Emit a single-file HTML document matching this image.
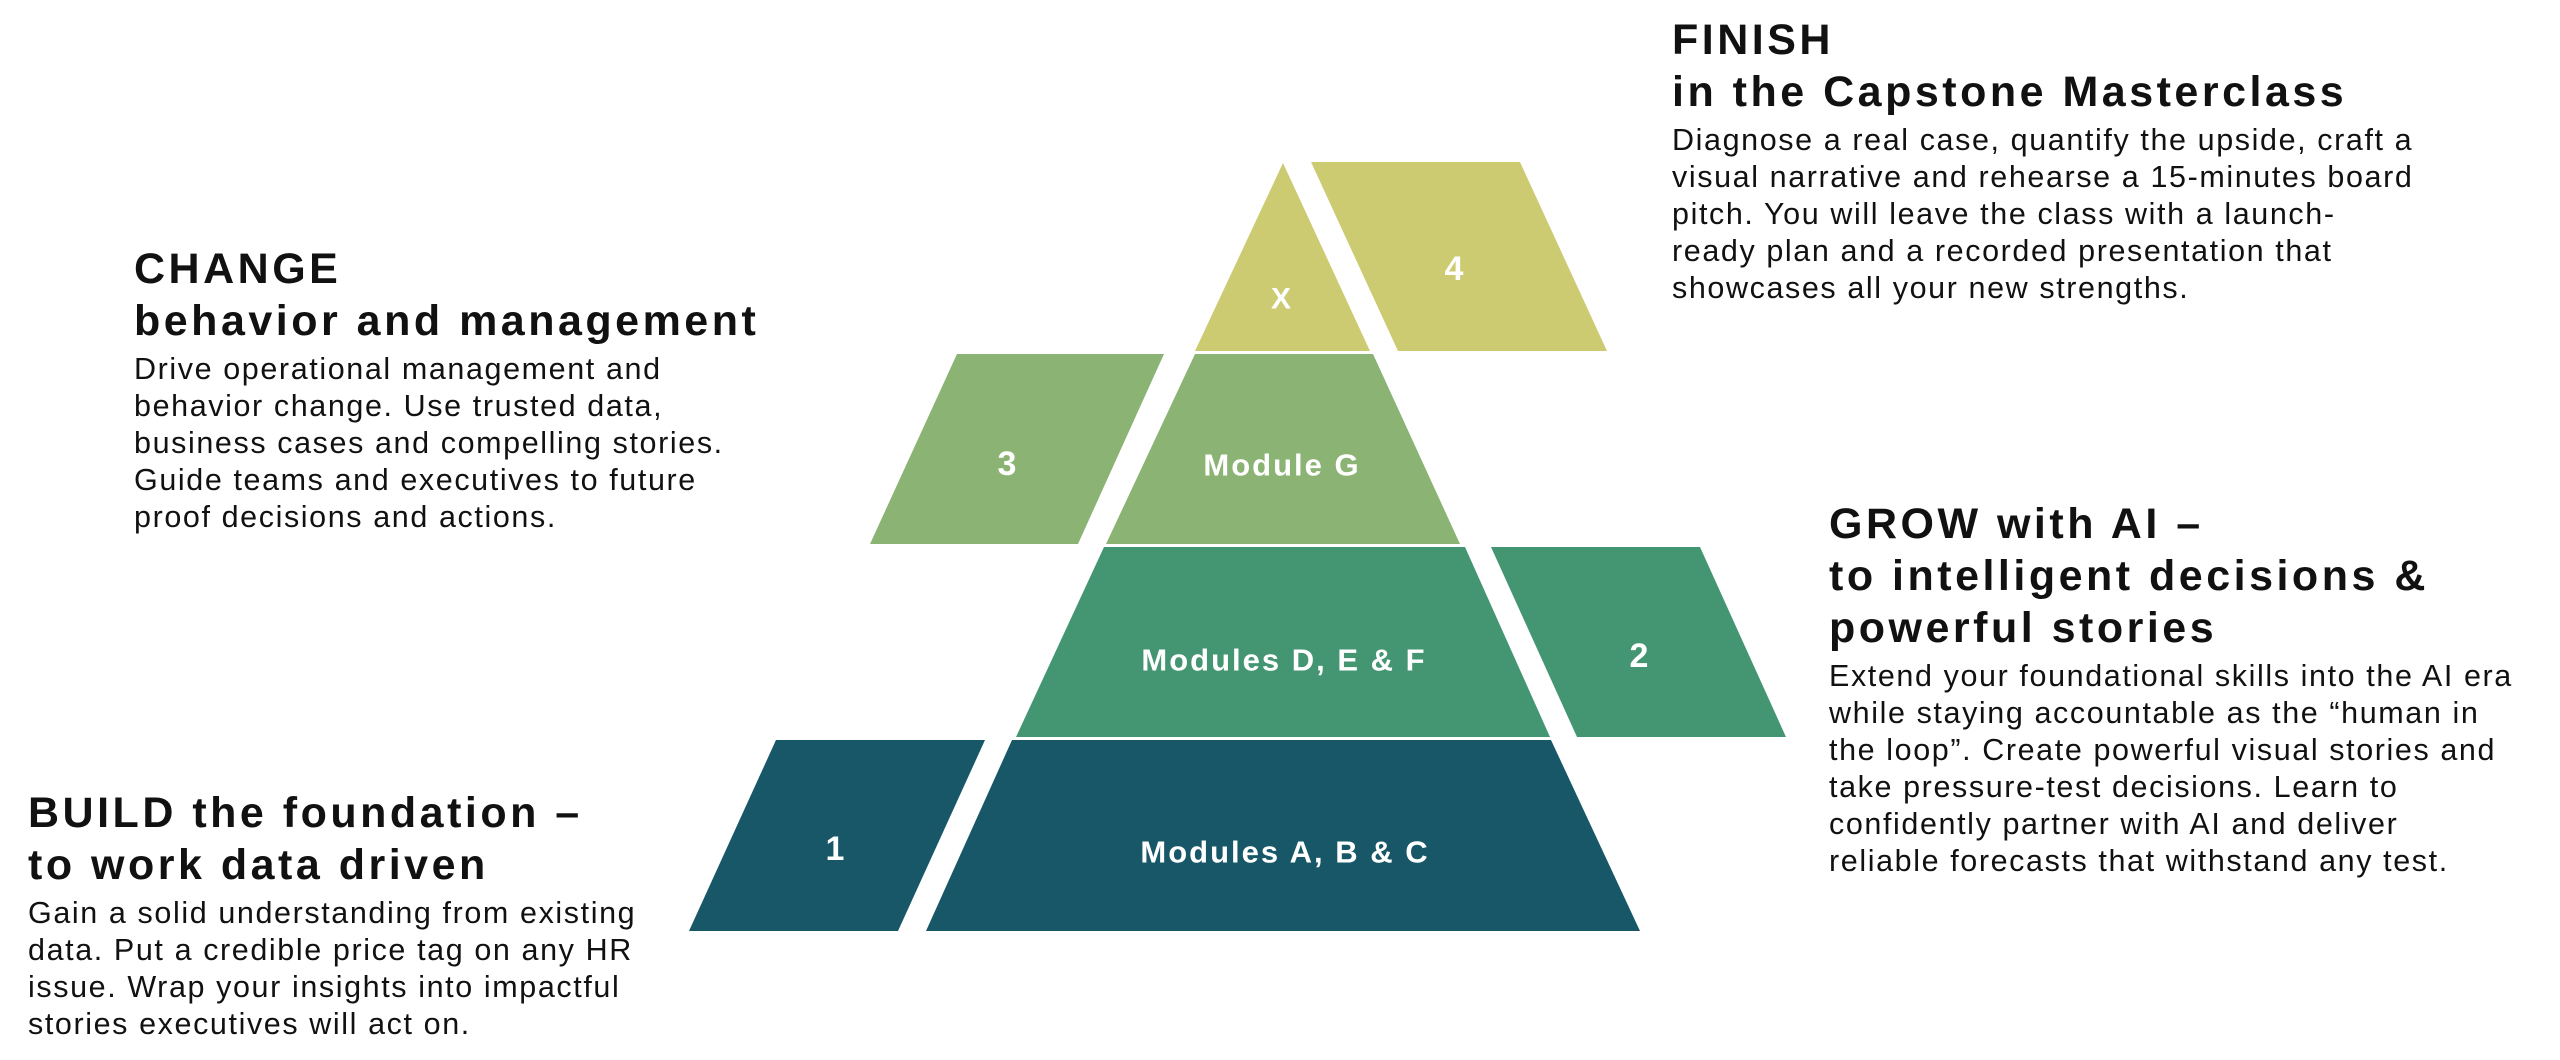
<!DOCTYPE html>
<html><head><meta charset="utf-8"><style>
html,body{margin:0;padding:0;background:#fff;}
body{width:2560px;height:1060px;position:relative;overflow:hidden;font-family:"Liberation Sans",sans-serif;color:#111;}
.b{position:absolute;}
.h{font-weight:bold;font-size:43px;line-height:52px;white-space:nowrap;letter-spacing:3.5px;}
.p{font-size:30.5px;line-height:37px;white-space:nowrap;letter-spacing:1.6px;margin-top:4px;}
svg{position:absolute;left:0;top:0;}
svg text{font-family:"Liberation Sans",sans-serif;font-weight:bold;fill:#fff;text-anchor:middle;dominant-baseline:central;letter-spacing:2px;}
</style></head><body>
<svg width="2560" height="1060" viewBox="0 0 2560 1060">
<polygon points="1283,163 1370,351 1195,351" fill="#cccb72"/>
<polygon points="1311,162 1520,162 1607,351 1398,351" fill="#cccb72"/>
<polygon points="1195,354 1373,354 1460,544 1106,544" fill="#8bb374"/>
<polygon points="957,354 1164,354 1078,544 870,544" fill="#8bb374"/>
<polygon points="1104,547 1465,547 1550,737 1016,737" fill="#449673"/>
<polygon points="1491,547 1700,547 1786,737 1577,737" fill="#449673"/>
<polygon points="1012,740 1551,740 1640,931 926,931" fill="#175767"/>
<polygon points="776,740 985,740 898,931 689,931" fill="#175767"/>
<text x="1282" y="299" font-size="30">X</text>
<text x="1455" y="269" font-size="34">4</text>
<text x="1282" y="465" font-size="31">Module G</text>
<text x="1008" y="464" font-size="34">3</text>
<text x="1284" y="660" font-size="31">Modules D, E &amp; F</text>
<text x="1640" y="656" font-size="34">2</text>
<text x="1285" y="852" font-size="31">Modules A, B &amp; C</text>
<text x="836" y="849" font-size="34">1</text>
</svg>
<div class="b" style="left:1672px;top:14px;">
<div class="h">FINISH</div><div class="h">in the Capstone Masterclass</div>
<div class="p">Diagnose a real case, quantify the upside, craft a<br>visual narrative and rehearse a 15-minutes board<br>pitch. You will leave the class with a launch-<br>ready plan and a recorded presentation that<br>showcases all your new strengths.</div></div>
<div class="b" style="left:134px;top:243px;">
<div class="h">CHANGE</div><div class="h">behavior and management</div>
<div class="p">Drive operational management and<br>behavior change. Use trusted data,<br>business cases and compelling stories.<br>Guide teams and executives to future<br>proof decisions and actions.</div></div>
<div class="b" style="left:1829px;top:498px;">
<div class="h">GROW with AI –</div><div class="h">to intelligent decisions &amp;</div><div class="h">powerful stories</div>
<div class="p">Extend your foundational skills into the AI era<br>while staying accountable as the “human in<br>the loop”. Create powerful visual stories and<br>take pressure-test decisions. Learn to<br>confidently partner with AI and deliver<br>reliable forecasts that withstand any test.</div></div>
<div class="b" style="left:28px;top:787px;">
<div class="h">BUILD the foundation –</div><div class="h">to work data driven</div>
<div class="p">Gain a solid understanding from existing<br>data. Put a credible price tag on any HR<br>issue. Wrap your insights into impactful<br>stories executives will act on.</div></div>
</body></html>
